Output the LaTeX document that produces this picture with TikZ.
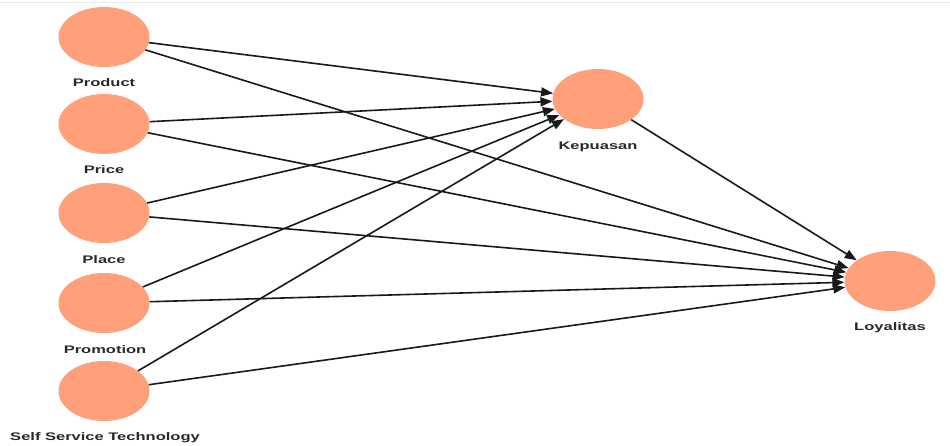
\documentclass[tikz,border=0pt]{standalone}
\usepackage{fontspec}
\newfontfamily\lblfont[FakeStretch=1.5]{Liberation Sans Bold}
\usetikzlibrary{arrows.meta,shapes.geometric}
\definecolor{nodefill}{RGB}{255,160,122}
\definecolor{lbl}{RGB}{40,40,40}
\begin{document}
\begin{tikzpicture}[x=1pt,y=-1pt,
  lv/.style={ellipse,fill=nodefill,minimum width=91pt,minimum height=60pt,inner sep=0pt},
  lab/.style={font=\lblfont\fontsize{11}{12}\selectfont,text=lbl,inner sep=0pt},
  conn/.style={draw=black!90,line width=1.6pt,-{Triangle[length=12pt,width=9pt]}}]
\useasboundingbox (0,0) rectangle (950,446);
\draw[black!8,line width=1pt] (0,3) -- (950,3);
\node[lv] (prod) at (104,37) {};
\node[lv] (price) at (104,124) {};
\node[lv] (place) at (104,213) {};
\node[lv] (promo) at (104,303) {};
\node[lv] (sst) at (104,391) {};
\node[lv] (kep) at (598,99) {};
\node[lv] (loy) at (890,281) {};
\node[lab] (lprod) at (104,83) {Product};
\node[lab] (lprice) at (104,170) {Price};
\node[lab] (lplace) at (104,260) {Place};
\node[lab] (lpromo) at (105,350) {Promotion};
\node[lab] (lsst) at (105,438) {Self Service Technology};
\node[lab] (lkep) at (598,147) {Kepuasan};
\node[lab] (lloy) at (890,328) {Loyalitas};
\foreach \s in {prod,price,place,promo,sst}{
  \draw[conn] (\s) -- (kep);
  \draw[conn] (\s) -- (loy);
}
\draw[conn] (kep) -- (loy);
\end{tikzpicture}
\end{document}
